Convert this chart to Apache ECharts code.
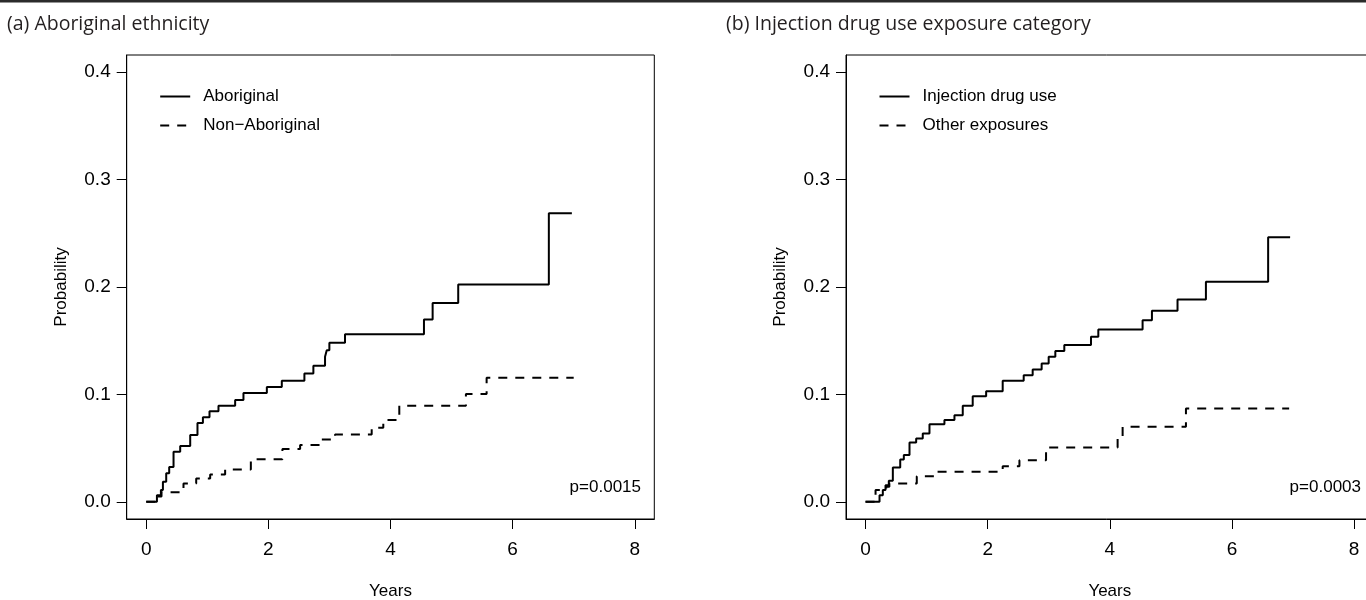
<!DOCTYPE html>
<html lang="en">

<head>
    <meta charset="UTF-8">
    <script src="https://cdn.jsdelivr.net/npm/echarts@6/dist/echarts.min.js"></script>
    <style>
        html, body {
            margin: 0;
            padding: 0;
            background-color: #ffffff;
        }
    </style>
</head>

<body>
    <div id="main" style="width: 1366px;height:600px;"></div>
    <script type="text/javascript">
        // (a) Aboriginal ethnicity: [years, cumulative probability]
        const aboriginal = [
            [0, 0], [0.175, 0.0062], [0.24, 0.0109], [0.273, 0.0186], [0.327, 0.0267],
            [0.376, 0.0323], [0.447, 0.0465], [0.556, 0.0519], [0.72, 0.0621], [0.839, 0.0733],
            [0.928, 0.0788], [1.036, 0.0844], [1.183, 0.0894], [1.456, 0.0947], [1.592, 0.1012],
            [1.975, 0.107], [2.22, 0.1126], [2.59, 0.1195], [2.737, 0.1266], [2.928, 0.135],
            [2.956, 0.1412], [2.999, 0.148], [3.255, 0.1561], [4.548, 0.1698], [4.69, 0.1852],
            [5.109, 0.2024], [6.593, 0.2687], [6.97, 0.2687]
        ];
        const nonAboriginal = [
            [0, 0], [0.15, 0.005], [0.25, 0.009], [0.61, 0.0171], [0.818, 0.0218],
            [1.047, 0.0255], [1.292, 0.0302], [1.713, 0.0397], [2.23, 0.0491], [2.52, 0.0528],
            [2.874, 0.0581], [3.092, 0.0627], [3.692, 0.0689], [3.882, 0.0761], [4.144, 0.0894],
            [5.235, 0.1003], [5.574, 0.1154], [7.0, 0.1154]
        ];
        // (b) Injection drug use exposure category
        const injection = [
            [0, 0], [0.229, 0.0062], [0.283, 0.0109], [0.327, 0.0155], [0.381, 0.0195],
            [0.447, 0.032], [0.568, 0.0395], [0.627, 0.0435], [0.72, 0.0553], [0.829, 0.059],
            [0.937, 0.0637], [1.047, 0.0723], [1.292, 0.0761], [1.456, 0.0807], [1.592, 0.0894],
            [1.755, 0.0984], [1.975, 0.103], [2.246, 0.1126], [2.59, 0.1179], [2.737, 0.1232],
            [2.884, 0.1288], [2.999, 0.135], [3.108, 0.1403], [3.255, 0.1459], [3.692, 0.1536],
            [3.812, 0.1605], [4.537, 0.1691], [4.69, 0.1778], [5.109, 0.1884], [5.574, 0.2048],
            [6.593, 0.2464], [6.953, 0.2464]
        ];
        const otherExposures = [
            [0, 0], [0.164, 0.0109], [0.339, 0.014], [0.39, 0.0171], [0.839, 0.0239],
            [1.157, 0.0279], [2.246, 0.0332], [2.52, 0.0388], [2.956, 0.0506], [4.128, 0.059],
            [4.21, 0.0698], [5.247, 0.0869], [6.937, 0.0869]
        ];

        const panelTitles = ['(a) Aboriginal ethnicity', '(b) Injection drug use exposure category'];
        const legendNames = [['Aboriginal', 'Non\u2212Aboriginal'], ['Injection drug use', 'Other exposures']];
        const pValues = ['p=0.0015', 'p=0.0003'];
        const xTicks = [0, 2, 4, 6, 8];
        const yTicks = [0, 0.1, 0.2, 0.3, 0.4];

        const rFont = '"Liberation Sans", Arial, sans-serif';
        const gridLefts = [126.7, 846];

        var myChart = echarts.init(document.getElementById('main'), null, { renderer: 'canvas' });

        function makeXAxis(i) {
            return {
                type: 'value', gridIndex: i, min: -0.32, max: 8.32,
                splitLine: { show: false },
                axisLine: { show: true, onZero: false, lineStyle: { color: '#000', width: 1 } },
                axisTick: { show: true, customValues: xTicks, length: 10, lineStyle: { color: '#000' } },
                axisLabel: { customValues: xTicks, fontSize: 19, margin: 21, color: '#000', fontFamily: rFont },
                name: 'Years', nameLocation: 'middle', nameGap: 64,
                nameTextStyle: { fontSize: 17, color: '#000', fontFamily: rFont }
            };
        }
        function makeYAxis(i) {
            return {
                type: 'value', gridIndex: i, min: -0.016, max: 0.416,
                splitLine: { show: false },
                axisLine: { show: true, onZero: false, lineStyle: { color: '#000', width: 1 } },
                axisTick: { show: true, customValues: yTicks, length: 10, lineStyle: { color: '#000' } },
                axisLabel: {
                    customValues: yTicks, fontSize: 19, margin: 16, color: '#000', fontFamily: rFont,
                    formatter: v => v.toFixed(1)
                },
                name: 'Probability', nameLocation: 'middle', nameGap: 57,
                nameTextStyle: { fontSize: 17, color: '#000', fontFamily: rFont }
            };
        }
        function makeSeries(name, data, i, dashed) {
            return {
                name: name, type: 'line', step: 'end', data: data,
                xAxisIndex: i, yAxisIndex: i, symbol: 'none',
                lineStyle: { color: '#000', width: 2, type: dashed ? [9, 8] : 'solid', cap: 'butt' },
                itemStyle: { color: '#000' }
            };
        }
        function makeLegend(i) {
            return {
                orient: 'vertical', left: gridLefts[i] + 32.5, top: 87.5, padding: 0,
                itemWidth: 30, itemHeight: 18, itemGap: 11,
                data: legendNames[i],
                itemStyle: { opacity: 0 },
                textStyle: { fontSize: 17, color: '#000', fontFamily: rFont, padding: [0, 0, 0, 8], lineHeight: 18 },
                selectedMode: false
            };
        }

        myChart.setOption({
            animation: false,
            backgroundColor: '#ffffff',
            grid: gridLefts.map(l => ({
                left: l, top: 55, width: 527.6, height: 464,
                containLabel: false, outerBoundsMode: 'none',
                show: true, borderColor: '#000', borderWidth: 1, backgroundColor: 'transparent'
            })),
            xAxis: [makeXAxis(0), makeXAxis(1)],
            yAxis: [makeYAxis(0), makeYAxis(1)],
            legend: [makeLegend(0), makeLegend(1)],
            series: [
                makeSeries(legendNames[0][0], aboriginal, 0, false),
                makeSeries(legendNames[0][1], nonAboriginal, 0, true),
                makeSeries(legendNames[1][0], injection, 1, false),
                makeSeries(legendNames[1][1], otherExposures, 1, true)
            ],
            graphic: [
                { type: 'rect', left: 0, top: 0, shape: { width: 1366, height: 2.5 }, style: { fill: '#2b2b2b' } },
                {
                    type: 'text', x: 7, y: 24,
                    style: { text: panelTitles[0], fontSize: 19.5, fontFamily: '"Open Sans", sans-serif', fill: '#231f20', verticalAlign: 'middle' }
                },
                {
                    type: 'text', x: 726, y: 24,
                    style: { text: panelTitles[1], fontSize: 19.5, fontFamily: '"Open Sans", sans-serif', fill: '#231f20', verticalAlign: 'middle' }
                },
                {
                    type: 'text', x: 641, y: 487,
                    style: { text: pValues[0], fontSize: 17, fontFamily: rFont, fill: '#000', align: 'right', verticalAlign: 'middle' }
                },
                {
                    type: 'text', x: 1361, y: 487,
                    style: { text: pValues[1], fontSize: 17, fontFamily: rFont, fill: '#000', align: 'right', verticalAlign: 'middle' }
                }
            ]
        });
    </script>
</body>

</html>
